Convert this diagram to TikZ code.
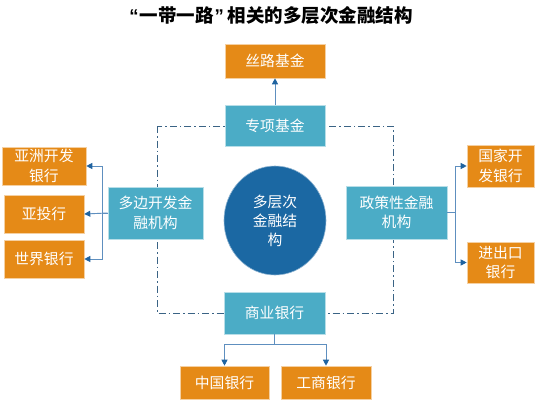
\documentclass[tikz,border=0pt]{standalone}
\usepackage{fontspec}
\setmainfont{Noto Sans CJK SC}
\newfontfamily\qfont{Liberation Sans}
\usetikzlibrary{arrows.meta,shapes.geometric}
\definecolor{orangeC}{HTML}{E58A17}
\definecolor{tealC}{HTML}{4BACC6}
\definecolor{circC}{HTML}{1B68A3}
\definecolor{lineC}{HTML}{5E8FBF}
\definecolor{tipC}{HTML}{1F63A0}
\definecolor{frameC}{HTML}{3A6385}
\tikzset{
  obox/.style={fill=orangeC, draw=orangeC!40!white, line width=0.6pt, text=white, align=center, inner sep=0pt,
    font=\fontsize{14.8}{19.5}\selectfont},
  tbox/.style={fill=tealC, draw=tealC!40!white, line width=0.6pt, text=white, align=center, inner sep=0pt,
    font=\fontsize{14.8}{19.5}\selectfont},
  conn/.style={draw=lineC, line width=0.9pt, -{Triangle[length=6pt,width=6pt,fill=tipC,color=tipC]}},
  frame/.style={draw=frameC, line width=0.9pt, dash pattern=on 7pt off 3pt on 1.5pt off 3pt}
}
\begin{document}
\begin{tikzpicture}[x=1pt,y=-1pt]
\useasboundingbox (0,0) rectangle (539,402);
\fill[white] (0,0) rectangle (539,402);
\node[font=\fontsize{18.5}{20}\selectfont\bfseries, inner sep=0pt] (title) at (271,15) {{\qfont\bfseries “}\hspace{1pt}一带一路\hspace{1pt}{\qfont\bfseries ”}\hspace{4pt}相关的多层次金融结构};
\coordinate (fa) at (157,126);
\coordinate (fb) at (393,313);
\draw[frame] (fa) rectangle (fb);
\node[obox, minimum width=100pt, minimum height=34pt] (silk) at (275,61) {丝路基金};
\node[tbox, minimum width=100pt, minimum height=41pt] (zx) at (275,126) {专项基金};
\node[tbox, minimum width=101pt, minimum height=42pt] (sy) at (274.5,313) {商业银行};
\node[obox, minimum width=89pt, minimum height=33pt] (zg) at (224.5,382.5) {中国银行};
\node[obox, minimum width=90pt, minimum height=33pt] (gs) at (326,382.5) {工商银行};
\node[obox, minimum width=84pt, minimum height=38pt] (adb) at (44,166) {亚洲开发\\银行};
\node[obox, minimum width=80pt, minimum height=38pt] (aiib) at (44,214) {亚投行};
\node[obox, minimum width=80pt, minimum height=38pt] (wb) at (44,259) {世界银行};
\node[tbox, minimum width=95pt, minimum height=52pt] (db) at (155.5,213) {多边开发金\\融机构};
\node[tbox, minimum width=101pt, minimum height=53pt] (zc) at (396.5,212.5) {政策性金融\\机构};
\node[obox, minimum width=67pt, minimum height=42pt] (cdb) at (500.5,166) {国家开\\发银行};
\node[obox, minimum width=67pt, minimum height=41pt] (exim) at (500.5,262.5) {进出口\\银行};
\node[ellipse, fill=circC, draw=circC!50!white, line width=0.6pt, minimum width=102pt, minimum height=109pt, inner sep=0pt,
  text=white, align=center, font=\fontsize{14.8}{19}\selectfont] (core) at (275,220.5) {多层次\\金融结\\构};
\draw[conn] (zx.north) -- (silk.south);
\draw[conn] (sy.south) -- ++(0,10) -| (zg.north);
\draw[conn] (sy.south) -- ++(0,10) -| (gs.north);
\draw[conn] (db.west) -- (aiib.east);
\draw[conn] (db.west) -- ++(-5,0) |- (adb.east);
\draw[conn] (db.west) -- ++(-5,0) |- (wb.east);
\draw[conn] (zc.east) -- ++(8,0) |- (cdb.west);
\draw[conn] (zc.east) -- ++(8,0) |- (exim.west);
\end{tikzpicture}
\end{document}
